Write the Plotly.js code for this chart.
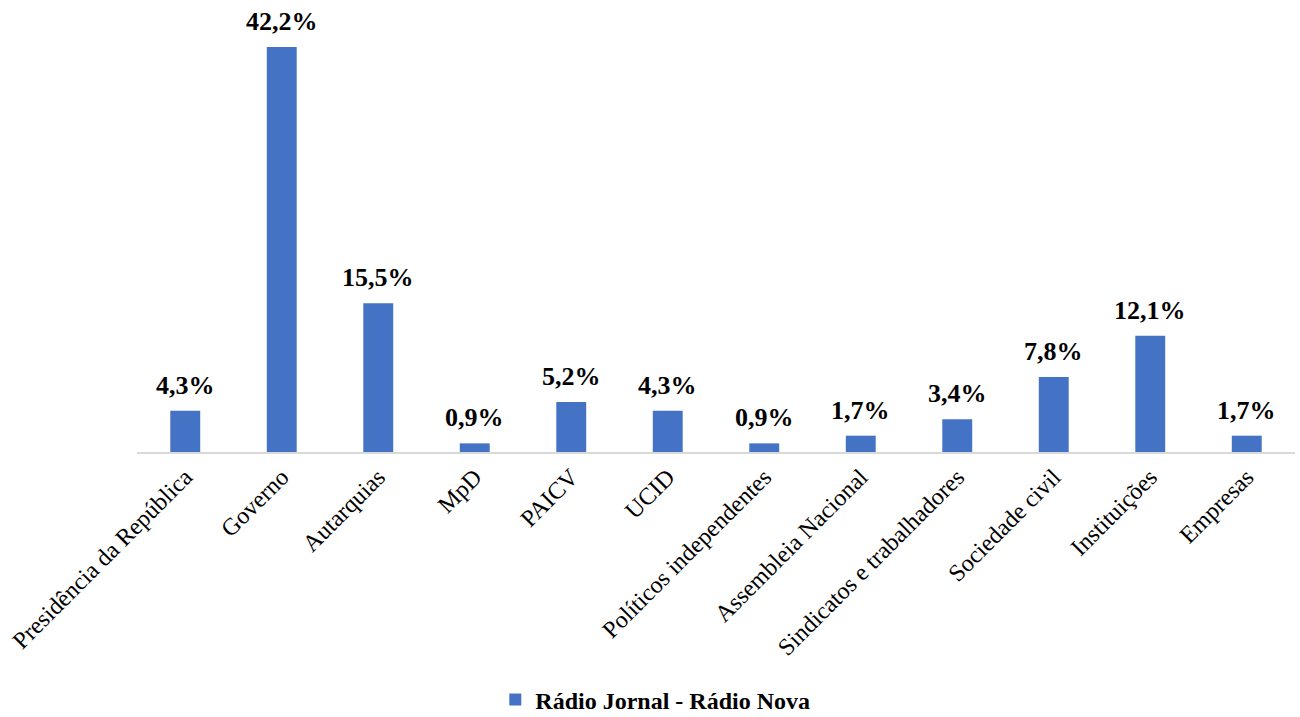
<!DOCTYPE html>
<html>
<head>
<meta charset="utf-8">
<script src="https://cdn.plot.ly/plotly-3.0.1.min.js"></script>
<style>html,body{margin:0;padding:0;background:#fff}#chart{width:1300px;height:717px}</style>
</head>
<body>
<div id="chart"></div>
<script>
const categories = ["Presidência da República","Governo","Autarquias","MpD","PAICV","UCID","Políticos independentes","Assembleia Nacional","Sindicatos e trabalhadores","Sociedade civil","Instituições","Empresas"];
const values = [4.3, 42.2, 15.5, 0.9, 5.2, 4.3, 0.9, 1.7, 3.4, 7.8, 12.1, 1.7];
const seriesName = "Rádio Jornal - Rádio Nova";

const serif = "Liberation Serif";

const trace = {
  type: "bar",
  x: categories,
  y: values,
  name: seriesName,
  marker: {color: "#4472C4"},
  hoverinfo: "none",
  showlegend: true
};

const annotations = categories.map((c, i) => ({
  x: c, y: values[i], xref: "x", yref: "y",
  text: values[i].toFixed(1).replace(".", ",") + "%",
  showarrow: false, yanchor: "bottom", yshift: 9,
  font: {family: serif, size: 26, color: "#000", weight: 700}
}));

const layout = {
  width: 1300, height: 717,
  margin: {l: 137, r: 5, t: 20, b: 265, autoexpand: false},
  paper_bgcolor: "#fff", plot_bgcolor: "#fff",
  bargap: 0.69,
  font: {family: serif, color: "#000"},
  xaxis: {
    type: "category",
    tickangle: -45,
    automargin: false,
    tickfont: {size: 24, family: serif, color: "#000"},
    showline: true, linecolor: "#d9d9d9", linewidth: 1.5,
    ticks: "", showgrid: false
  },
  yaxis: {
    range: [0, 45],
    visible: false,
    showgrid: false, zeroline: false
  },
  annotations: annotations,
  showlegend: true,
  legend: {
    orientation: "h",
    xref: "container", yref: "container",
    x: 0.381, xanchor: "left",
    y: 0.024, yanchor: "middle",
    font: {size: 24, family: serif, color: "#000", weight: 700},
    itemwidth: 30
  }
};

Plotly.newPlot("chart", [trace], layout, {displayModeBar: false, staticPlot: true});
</script>
</body>
</html>
